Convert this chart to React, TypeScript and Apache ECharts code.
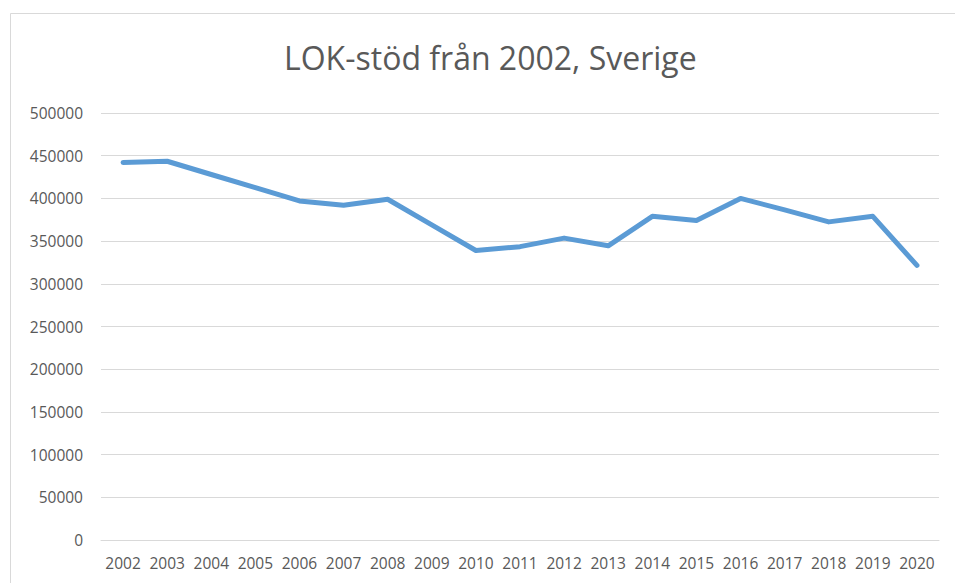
import React, { useEffect, useRef } from "react";
import * as echarts from "echarts";

const years = ["2002","2003","2004","2005","2006","2007","2008","2009","2010","2011","2012","2013","2014","2015","2016","2017","2018","2019","2020"];
const values = [442000, 443500, 428000, 412500, 397000, 392000, 399000, 369000, 339000, 343500, 353500, 344500, 379000, 374000, 400000, 386500, 372500, 379000, 321500];
const titleText = "LOK-stöd från 2002, Sverige";

export default function App() {
  const ref = useRef<HTMLDivElement>(null);
  useEffect(() => {
    if (!ref.current) return;
    const chart = echarts.init(ref.current, null, { renderer: "svg" });
    chart.setOption({
      animation: false,
      backgroundColor: "#ffffff",
      textStyle: { fontFamily: "Open Sans" },
      title: {
        text: titleText,
        left: 279,
        top: 36,
        textStyle: { fontSize: 32, fontWeight: "normal", color: "#595959", fontFamily: "Open Sans" },
      },
      graphic: [
        {
          type: "rect",
          shape: { x: 10.5, y: 13.5, width: 1000, height: 1000 },
          style: { fill: "none", stroke: "#d9d9d9", lineWidth: 1 },
          silent: true,
        },
      ],
      grid: { left: 101, right: 16, top: 113, bottom: 43 },
      xAxis: {
        type: "category",
        data: years,
        boundaryGap: true,
        axisLine: { show: true, lineStyle: { color: "#d9d9d9", width: 1 } },
        axisTick: { show: false },
        axisLabel: { color: "#595959", fontSize: 15.5, margin: 15, interval: 0 },
      },
      yAxis: {
        type: "value",
        min: 0,
        max: 500000,
        interval: 50000,
        axisLine: { show: false },
        axisTick: { show: false },
        axisLabel: { color: "#595959", fontSize: 15.5, margin: 18, formatter: (v: number) => String(v) },
        splitLine: { lineStyle: { color: "#d9d9d9", width: 1 } },
      },
      series: [
        {
          type: "line",
          data: values,
          symbol: "none",
          lineStyle: { color: "#5b9bd5", width: 5, cap: "round", join: "round" },
        },
      ],
    });
    return () => chart.dispose();
  }, []);
  return <div ref={ref} style={{ position: "fixed", left: 0, top: 0, width: 955, height: 583 }} />;
}
